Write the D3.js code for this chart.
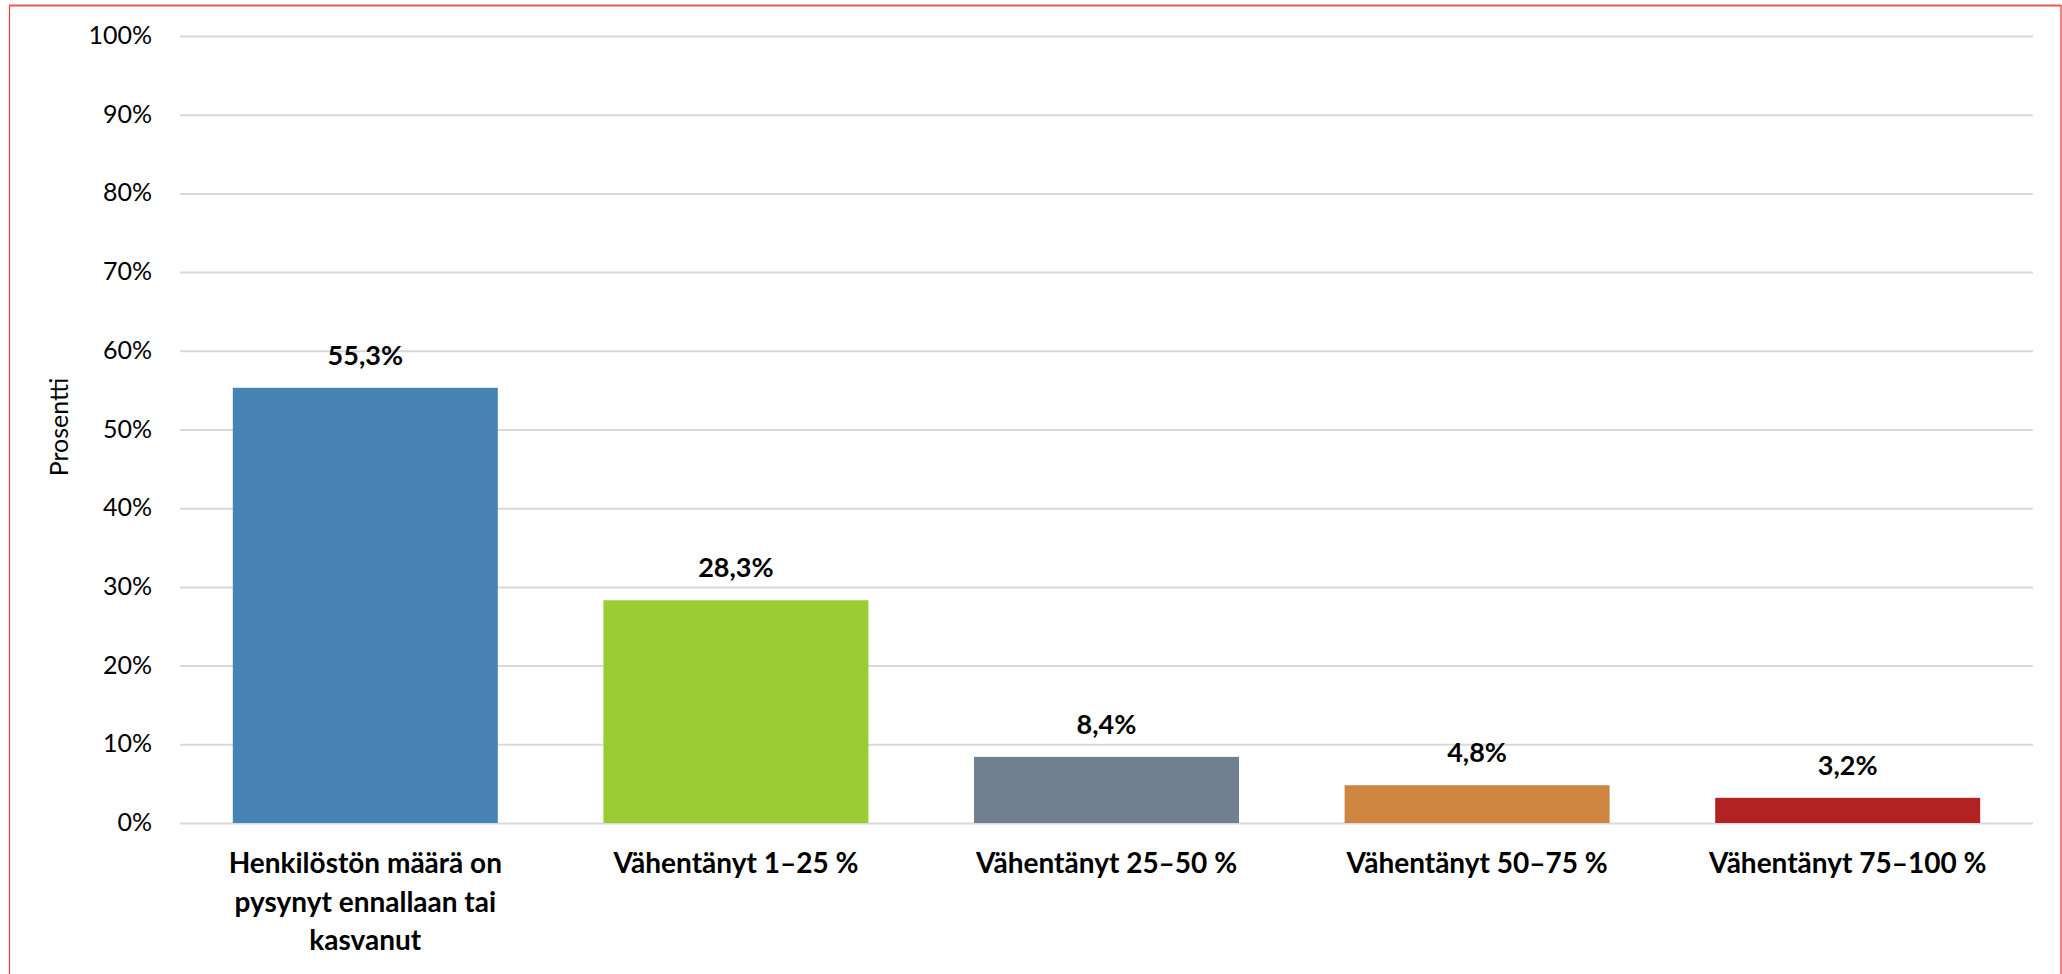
<!DOCTYPE html>
<html>
<head>
<meta charset="utf-8">
<script src="https://cdn.jsdelivr.net/npm/d3@7"></script>
<style>
  html, body { margin: 0; padding: 0; background: #fff; }
  svg { display: block; }
</style>
</head>
<body>
<svg id="chart" width="2062" height="974"></svg>
<script>
const categories = [
  "Henkilöstön määrä on pysynyt ennallaan tai kasvanut",
  "Vähentänyt 1–25 %",
  "Vähentänyt 25–50 %",
  "Vähentänyt 50–75 %",
  "Vähentänyt 75–100 %"
];
const categoryLines = [
  ["Henkilöstön määrä on", "pysynyt ennallaan tai", "kasvanut"],
  ["Vähentänyt 1–25 %"],
  ["Vähentänyt 25–50 %"],
  ["Vähentänyt 50–75 %"],
  ["Vähentänyt 75–100 %"]
];
const values = [55.3, 28.3, 8.4, 4.8, 3.2];
const valueLabels = ["55,3%", "28,3%", "8,4%", "4,8%", "3,2%"];
const barColors = ["#4682B4", "#9ACD32", "#708090", "#CD853F", "#B22222"];
const yTicks = [0, 10, 20, 30, 40, 50, 60, 70, 80, 90, 100];
const yTitle = "Prosentti";

(function () {
const FONT = "Lato, 'Liberation Sans', Arial, sans-serif";
const svg = d3.select("#chart");

// frame
svg.append("line").attr("x1", 9.5).attr("x2", 9.5).attr("y1", 5).attr("y2", 974)
  .attr("stroke", "#f03c3c").attr("stroke-width", 1.2);
svg.append("line").attr("x1", 9).attr("x2", 2061).attr("y1", 5.5).attr("y2", 5.5)
  .attr("stroke", "#f05555").attr("stroke-width", 2);
svg.append("line").attr("x1", 2061).attr("x2", 2061).attr("y1", 5).attr("y2", 974)
  .attr("stroke", "#f05555").attr("stroke-width", 1.5);

const mLeft = 180, mRight = 2033, mTop = 36, mBottom = 823;

const x = d3.scaleBand().domain(categories).range([mLeft, mRight])
  .paddingInner(0.285).paddingOuter(0.1425);
const y = d3.scaleLinear().domain([0, 100]).range([mBottom, mTop]);

// gridlines + y tick labels via axis
const yAxis = d3.axisLeft(y).tickValues(yTicks)
  .tickFormat(d => d + "%").tickSize(-(mRight - mLeft)).tickPadding(28);
const yg = svg.append("g").attr("transform", `translate(${mLeft},0)`).call(yAxis);
yg.select(".domain").remove();
yg.selectAll(".tick line").attr("stroke", "#d9d9d9").attr("stroke-width", 2);
yg.selectAll(".tick text").attr("font-family", FONT).attr("font-size", 25)
  .attr("fill", "#000").attr("dy", "0.3em");

// bars
svg.append("g").selectAll("rect").data(values).join("rect")
  .attr("x", (d, i) => x(categories[i]))
  .attr("width", x.bandwidth())
  .attr("y", d => y(d))
  .attr("height", d => y(0) - y(d))
  .attr("fill", (d, i) => barColors[i]);

// value labels
svg.append("g").selectAll("text").data(values).join("text")
  .attr("x", (d, i) => x(categories[i]) + x.bandwidth() / 2)
  .attr("y", d => y(d) - 23)
  .attr("text-anchor", "middle")
  .attr("font-family", FONT).attr("font-size", 27).attr("font-weight", "bold")
  .attr("fill", "#000")
  .text((d, i) => valueLabels[i]);

// category labels via bottom axis
const xAxis = d3.axisBottom(x).tickSize(0).tickFormat("");
const xg = svg.append("g").attr("transform", `translate(0,${mBottom})`).call(xAxis);
xg.select(".domain").remove();
xg.selectAll(".tick").each(function(d, i) {
  const t = d3.select(this).append("text")
    .attr("text-anchor", "middle")
    .attr("font-family", FONT).attr("font-size", 28).attr("font-weight", "bold")
    .attr("fill", "#000");
  categoryLines[i].forEach((ln, j) => {
    t.append("tspan").attr("x", 0).attr("y", 50 + j * 38.5).text(ln);
  });
});

// y axis title
svg.append("text")
  .attr("transform", `translate(68,427) rotate(-90)`)
  .attr("text-anchor", "middle")
  .attr("font-family", FONT).attr("font-size", 25).attr("fill", "#000")
  .text(yTitle);
})();
</script>
</body>
</html>
